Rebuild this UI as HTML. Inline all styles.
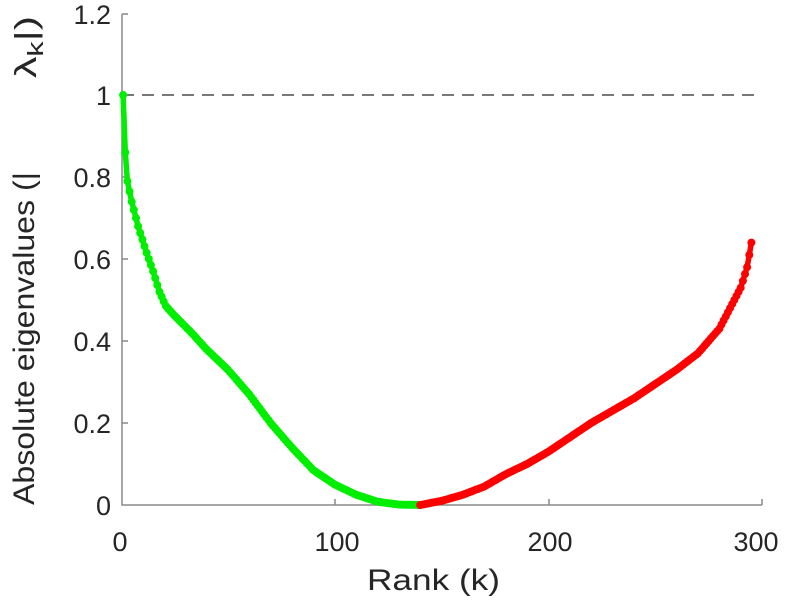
<!DOCTYPE html>
<html><head><meta charset="utf-8"><style>
body{margin:0;background:#fff;}
svg text{font-family:"Liberation Sans",sans-serif;fill:#262626;}
</style></head><body>
<svg id="s" width="792" height="600" xmlns="http://www.w3.org/2000/svg">
<line x1="122" y1="95" x2="762" y2="95" stroke="#777" stroke-width="2" stroke-dasharray="12,8"/>
<path d="M122,14 V505 H762" fill="none" stroke="#888" stroke-width="1.5"/>
<g stroke="#888" stroke-width="1.5">
<line x1="122" y1="14" x2="128" y2="14"/><line x1="122" y1="95" x2="128" y2="95"/><line x1="122" y1="177" x2="128" y2="177"/><line x1="122" y1="259" x2="128" y2="259"/><line x1="122" y1="341" x2="128" y2="341"/><line x1="122" y1="423" x2="128" y2="423"/>
<line x1="335" y1="505" x2="335" y2="499"/><line x1="549" y1="505" x2="549" y2="499"/><line x1="762" y1="505" x2="762" y2="499"/>
</g>
<g font-size="27" text-anchor="end">
<text x="111" y="24">1.2</text><text x="111" y="105">1</text><text x="111" y="187">0.8</text><text x="111" y="269">0.6</text><text x="111" y="351">0.4</text><text x="111" y="433">0.2</text><text x="111" y="515">0</text>
</g>
<g font-size="27" text-anchor="middle">
<text x="120" y="551">0</text><text x="337" y="551">100</text><text x="550" y="551">200</text><text x="756" y="551">300</text>
</g>
<text font-size="30" x="367" y="590" textLength="133" lengthAdjust="spacingAndGlyphs">Rank (k)</text>
<g transform="rotate(-90)">
<text font-size="30" x="-505" y="34" textLength="333" lengthAdjust="spacingAndGlyphs">Absolute eigenvalues (|</text>
<text font-size="31" x="-78" y="36" textLength="62" lengthAdjust="spacingAndGlyphs">&#955;<tspan font-size="22" dy="7">k</tspan><tspan dy="-7">|)</tspan></text>
</g>
<g id="g"></g>
</svg>
<script>
var pts=[[1,1.0],[2,0.86],[3,0.79],[5,0.74],[8,0.68],[12,0.615],[15,0.57],[18,0.52],[21,0.485],[25,0.462],[33,0.42],[40,0.38],[50,0.33],[60,0.27],[70,0.2],[80,0.14],[90,0.085],[100,0.05],[110,0.025],[120,0.008],[130,0.001],[140,0],[150,0.01],[160,0.025],[170,0.045],[180,0.075],[190,0.1],[200,0.13],[220,0.2],[240,0.26],[260,0.33],[270,0.37],[280,0.43],[285,0.48],[290,0.53],[293,0.58],[295,0.64]];
function val(r){for(var i=1;i<pts.length;i++){if(r<=pts[i][0]){var a=pts[i-1],b=pts[i];return a[1]+(b[1]-a[1])*(r-a[0])/(b[0]-a[0]);}}return 0.64;}
function X(r){return 121+2.137*r;}function Y(v){return 505-410*v;}
var g=document.getElementById('g'),h='';
function seg(a,b,c){var d='';for(var r=a;r<=b;r++){d+=(r==a?'M':'L')+X(r).toFixed(1)+','+Y(val(r)).toFixed(1);}
h+='<path d="'+d+'" fill="none" stroke="'+c+'" stroke-width="5.5" stroke-linejoin="round"/>';
for(var r=a;r<=b;r++){h+='<circle cx="'+X(r).toFixed(1)+'" cy="'+Y(val(r)).toFixed(1)+'" r="4" fill="'+c+'"/>';}}
seg(1,140,'#00ee00');seg(140,295,'#ff0000');
g.innerHTML=h;
</script>
</body></html>
